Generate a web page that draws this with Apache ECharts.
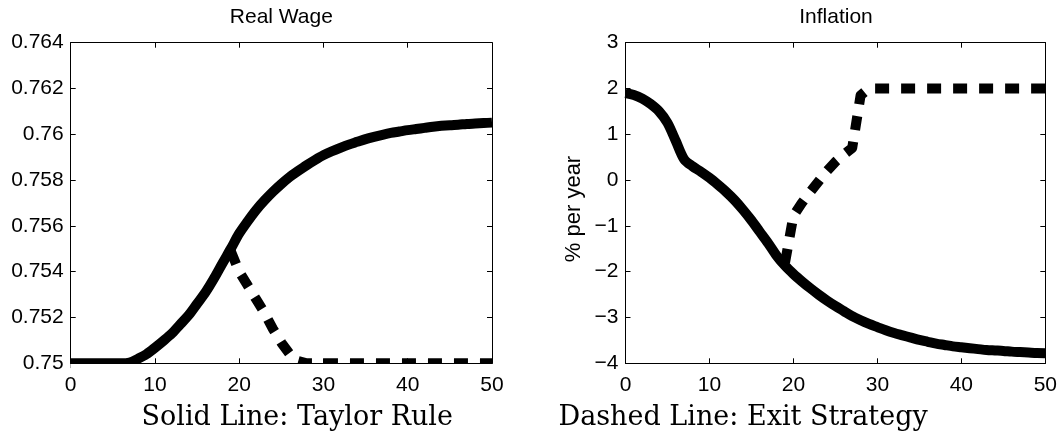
<!DOCTYPE html>
<html><head><meta charset="utf-8">
<script src="https://cdn.jsdelivr.net/npm/echarts@6/dist/echarts.min.js"></script>
<style>html,body{margin:0;padding:0;background:#fff}#c{width:1060px;height:434px}</style>
</head><body><div id="c"></div>
<script>
const periods = [0,1,2,3,4,5,6,7,8,9,10,11,12,13,14,15,16,17,18,19,20,21,22,23,24,25,26,27,28,29,30,31,32,33,34,35,36,37,38,39,40,41,42,43,44,45,46,47,48,49,50];
const wageTaylor = [0.75,0.75,0.75,0.75,0.75,0.75,0.75,0.75003,0.7502,0.7504,0.75068,0.75098,0.7513,0.7517,0.7521,0.7526,0.7531,0.7537,0.75436,0.7550,0.75567,0.7562,0.75669,0.75711,0.75749,0.75783,0.75814,0.7584,0.75865,0.75888,0.75909,0.75926,0.75941,0.75955,0.75967,0.75979,0.75989,0.75998,0.76006,0.76012,0.76018,0.76023,0.76028,0.76033,0.76037,0.7604,0.76042,0.76045,0.76047,0.76049,0.76051];
const wageExit = [null,null,null,null,null,null,null,null,null,null,null,null,null,null,null,null,null,null,null,0.7549,0.7540,0.7534,0.7528,0.7522,0.7515,0.7509,0.7504,0.7501,0.75,0.75,0.75,0.75,0.75,0.75,0.75,0.75,0.75,0.75,0.75,0.75,0.75,0.75,0.75,0.75,0.75,0.75,0.75,0.75,0.75,0.75,0.75];
const inflTaylor = [1.90,1.86,1.78,1.66,1.50,1.25,0.85,0.45,0.30,0.18,0.05,-0.10,-0.26,-0.44,-0.65,-0.88,-1.13,-1.38,-1.65,-1.87,-2.05,-2.21,-2.36,-2.50,-2.63,-2.75,-2.86,-2.97,-3.06,-3.14,-3.21,-3.28,-3.34,-3.39,-3.44,-3.49,-3.53,-3.57,-3.60,-3.63,-3.65,-3.67,-3.69,-3.71,-3.72,-3.73,-3.745,-3.755,-3.765,-3.775,-3.78];
const inflExit = [null,null,null,null,null,null,null,null,null,null,null,null,null,null,null,null,null,null,null,-1.8,-0.78,-0.5,-0.26,-0.03,0.2,0.4,0.56,0.7,1.85,2.0,2.0,2.0,2.0,2.0,2.0,2.0,2.0,2.0,2.0,2.0,2.0,2.0,2.0,2.0,2.0,2.0,2.0,2.0,2.0,2.0,2.0];
const xTicks = ['0','10','20','30','40','50'];
const wageTicks = ['0.75','0.752','0.754','0.756','0.758','0.76','0.762','0.764'];
const inflTicks = ['\u22124','\u22123','\u22122','\u22121','0','1','2','3'];
const titles = ['Real Wage','Inflation'];
const yName = '% per year';
const notes = ['Solid Line: Taylor Rule','Dashed Line: Exit Strategy'];

const FONT = 'Liberation Sans';
const G = [{left:70.7, top:42.7, width:421.3, height:320.6},{left:625.5, top:42.7, width:421, height:320.6}];

function xAx(g, pos, show){
  return {type:'value', gridIndex:g, position:pos, min:0, max:50, interval:10, z:10,
    axisLine:{show:true, onZero:false, lineStyle:{color:'#000', width:1}},
    axisTick:{show:true, inside:true, length:5, lineStyle:{color:'#000', width:1}},
    axisLabel:{show:show, color:'#000', fontSize:21, fontFamily:FONT, margin:11,
      formatter:(v)=>xTicks[Math.round(v/10)]},
    splitLine:{show:false}};
}
function yAx(g, pos, show, min, max, iv, labels){
  return {type:'value', gridIndex:g, position:pos, min:min, max:max, interval:iv, z:10,
    axisLine:{show:true, onZero:false, lineStyle:{color:'#000', width:1}},
    axisTick:{show:true, inside:true, length:5, lineStyle:{color:'#000', width:1}},
    axisLabel:{show:show, color:'#000', fontSize:21, fontFamily:FONT, margin:7,
      formatter:(v)=>labels[Math.round((v-min)/iv)]},
    splitLine:{show:false}};
}
function ser(xi, yi, arr, dashed){
  return {type:'line', xAxisIndex:xi, yAxisIndex:yi, symbol:'none', showSymbol:false,
    smooth: dashed ? false : 0.3,
    z:2, animation:false, connectNulls:false,
    lineStyle:{color:'#000', width:10, type: dashed ? [14,12] : 'solid', cap:'butt', join:'round'},
    data: periods.map((p,i)=>[p, arr[i]])};
}
function txt(x, y, s, size, family, align, rot){
  return {type:'text', x:x, y:y, rotation:rot||0, z:20,
    style:{text:s, fontSize:size, fontFamily:family, fill:'#000',
      align:align, textAlign:align, verticalAlign:'middle', textVerticalAlign:'middle'}};
}

const chart = echarts.init(document.getElementById('c'), null, {renderer:'canvas'});
chart.setOption({
  backgroundColor:'#fff',
  animation:false,
  grid: G,
  xAxis:[xAx(0,'bottom',true), xAx(0,'top',false), xAx(1,'bottom',true), xAx(1,'top',false)],
  yAxis:[yAx(0,'left',true,0.75,0.764,0.002,wageTicks), yAx(0,'right',false,0.75,0.764,0.002,wageTicks),
         yAx(1,'left',true,-4,3,1,inflTicks), yAx(1,'right',false,-4,3,1,inflTicks)],
  series:[ser(0,0,wageTaylor,false), ser(0,0,wageExit,true), ser(2,2,inflTaylor,false), ser(2,2,inflExit,true)],
  graphic:[
    {type:'rect', z:5, shape:{x:71, y:364, width:421, height:7}, style:{fill:'#fff'}},
    txt(G[0].left+G[0].width/2, 17.5, titles[0], 21, FONT, 'center'),
    txt(G[1].left+G[1].width/2, 17.5, titles[1], 21, FONT, 'center'),
    txt(574, 209, yName, 22, FONT, 'center', Math.PI/2),
    txt(141.5, 417.5, notes[0], 27, 'DejaVu Serif', 'left'),
    txt(558.5, 417.5, notes[1], 27, 'DejaVu Serif', 'left')
  ]
});
</script></body></html>
